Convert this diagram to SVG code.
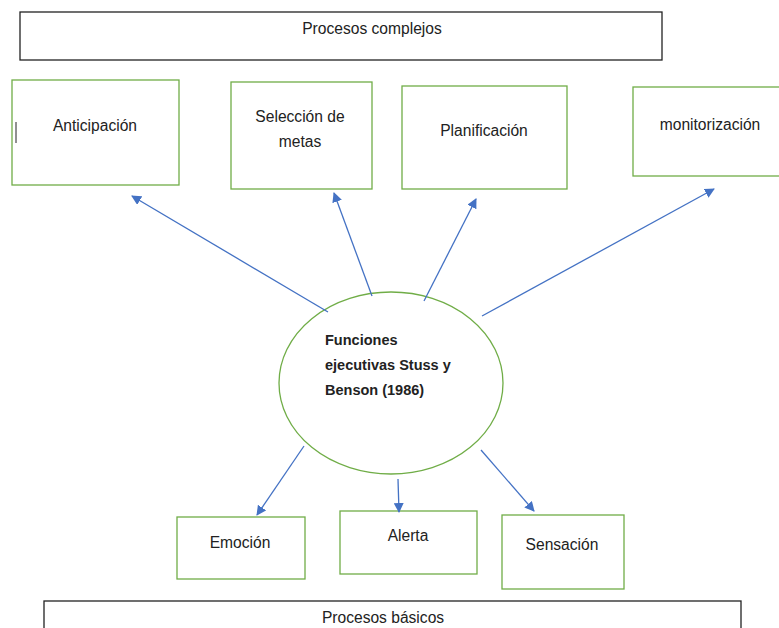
<svg xmlns="http://www.w3.org/2000/svg" width="779" height="628" viewBox="0 0 779 628">
<defs>
<marker id="ah" markerWidth="10" markerHeight="10" refX="9" refY="5" orient="auto" markerUnits="userSpaceOnUse">
<path d="M0,0 L10,5 L0,10 Z" fill="#4472C4"/>
</marker>
<style>
.g{fill:#fff;stroke:#70AD47;stroke-width:1.3}
.k{fill:#fff;stroke:#222;stroke-width:1.3}
.t{font-family:"Liberation Sans",Arial,sans-serif;font-size:15.6px;fill:#222;text-anchor:middle}
.b{font-family:"Liberation Sans",Arial,sans-serif;font-size:14.5px;font-weight:bold;fill:#222}
.c line{stroke:#4472C4;stroke-width:1.3;marker-end:url(#ah)}
</style>
</defs>
<rect width="779" height="628" fill="#fff"/>
<g id="procesos-complejos"><rect class="k" x="20" y="12" width="642" height="48"/><text class="t" x="372" y="34">Procesos complejos</text></g>
<g id="anticipacion"><rect class="g" x="12" y="80" width="167" height="105"/><text class="t" x="95" y="131">Anticipación</text><line x1="16" y1="122" x2="16" y2="143" stroke="#222" stroke-width="1"/></g>
<g id="seleccion"><rect class="g" x="231" y="82" width="141" height="107"/><text class="t" x="300" y="122">Selección de</text><text class="t" x="300" y="147">metas</text></g>
<g id="planificacion"><rect class="g" x="402" y="86" width="165" height="103"/><text class="t" x="484" y="136">Planificación</text></g>
<g id="monitorizacion"><rect class="g" x="633" y="87" width="150" height="89"/><text class="t" x="710" y="130">monitorización</text></g>
<g id="funciones"><ellipse class="g" cx="391" cy="383" rx="112" ry="91"/>
<text class="b" x="325" y="345">Funciones</text>
<text class="b" x="325" y="370">ejecutivas Stuss y</text>
<text class="b" x="325" y="395">Benson (1986)</text></g>
<g id="emocion"><rect class="g" x="177" y="517" width="128" height="62"/><text class="t" x="240" y="548">Emoción</text></g>
<g id="alerta"><rect class="g" x="340" y="511" width="137" height="63"/><text class="t" x="408" y="541">Alerta</text></g>
<g id="sensacion"><rect class="g" x="502" y="515" width="122" height="74"/><text class="t" x="562" y="550">Sensación</text></g>
<g id="procesos-basicos"><rect class="k" x="44" y="601" width="697" height="40"/><text class="t" x="383" y="623">Procesos básicos</text></g>
<g class="c" id="connectors">
<line x1="328" y1="312" x2="132" y2="196"/>
<line x1="372" y1="296" x2="334" y2="193"/>
<line x1="424" y1="301" x2="476" y2="199"/>
<line x1="482" y1="316" x2="714" y2="189"/>
<line x1="304" y1="446" x2="257" y2="515"/>
<line x1="398" y1="479" x2="399" y2="512"/>
<line x1="481" y1="450" x2="534" y2="511"/>
</g>
</svg>
